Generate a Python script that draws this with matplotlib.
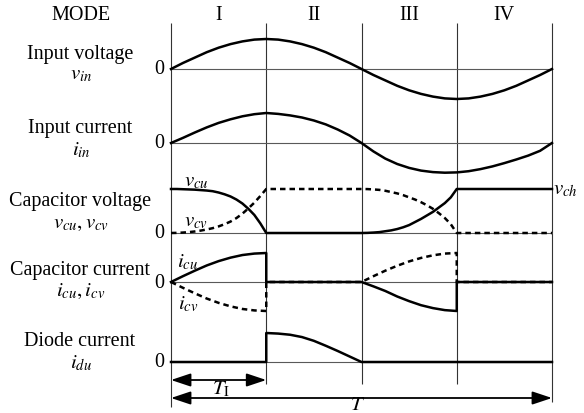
import matplotlib
matplotlib.use("Agg")
from matplotlib import pyplot as plt

plt.rcParams['font.family'] = ['Liberation Serif', 'DejaVu Serif']
plt.rcParams['mathtext.fontset'] = 'stix'

W, H = 584, 414

modes = ['I', 'II', 'III', 'IV']

# waveforms, normalised, one list per mode (I, II, III, IV);
# the points of a list are spread evenly over its mode
v_in = [[0, 0.2, 0.38, 0.56, 0.71, 0.83, 0.92, 0.98, 1.0],
        [1.0, 0.98, 0.92, 0.83, 0.71, 0.56, 0.38, 0.2, 0],
        [0, -0.2, -0.38, -0.56, -0.71, -0.83, -0.92, -0.98, -1.0],
        [-1.0, -0.98, -0.92, -0.83, -0.71, -0.56, -0.38, -0.2, 0]]
i_in = [[0, 0.17, 0.35, 0.52, 0.67, 0.79, 0.89, 0.96, 1.0],
        [1.0, 0.97, 0.92, 0.85, 0.75, 0.62, 0.45, 0.25, 0],
        [0, -0.28, -0.52, -0.7, -0.83, -0.92, -0.97, -0.99, -0.98],
        [-0.98, -0.94, -0.87, -0.78, -0.67, -0.55, -0.42, -0.26, 0]]
v_cu = [[1, 1.0, 0.995, 0.99, 0.985, 0.975, 0.965, 0.95, 0.92,
         0.88, 0.83, 0.76, 0.67, 0.55, 0.41, 0.22, 0],
        [0, 0],
        [0, 0.003, 0.01, 0.02, 0.04, 0.06, 0.09, 0.13, 0.18,
         0.25, 0.32, 0.4, 0.48, 0.58, 0.68, 0.81, 1.0],
        [1, 1]]
v_cv = [[0, 0.003, 0.01, 0.02, 0.035, 0.055, 0.08, 0.11, 0.15,
         0.2, 0.26, 0.34, 0.44, 0.56, 0.69, 0.84, 1.0],
        [1, 1],
        [1, 0.998, 0.99, 0.98, 0.96, 0.93, 0.9, 0.86, 0.81,
         0.76, 0.7, 0.63, 0.55, 0.45, 0.34, 0.2, 0],
        [0, 0]]
i_cu = [[0, 0.2, 0.39, 0.57, 0.72, 0.84, 0.93, 0.98, 1.0],
        [0, 0],
        [0, -0.15, -0.31, -0.5, -0.66, -0.8, -0.9, -0.97, -1.0],
        [0, 0]]
i_cv = [[0, -0.2, -0.39, -0.57, -0.72, -0.84, -0.93, -0.98, -1.0],
        [0, 0],
        [0, 0.2, 0.39, 0.56, 0.71, 0.83, 0.92, 0.98, 1.0],
        [0, 0]]
i_du = [[0, 0],
        [1, 0.98, 0.94, 0.86, 0.73, 0.56, 0.38, 0.19, 0],
        [0, 0],
        [0, 0]]


def join(parts):
    xs, ys = [], []
    for k, vals in enumerate(parts):
        n = len(vals) - 1
        xs += [k + i / n for i in range(n + 1)]
        ys += vals
    return xs, ys


# time axis: mode boundary 0 at x=171px, 4 at x=552px
x0_px, x4_px = 171, 552
u = (x4_px - x0_px) / 4
xlim = (-x0_px / u, (W - x0_px) / u)

fig = plt.figure(figsize=(W / 100, H / 100), dpi=100)
bg = fig.add_axes([0, 0, 1, 1])
bg.set_xlim(*xlim)
bg.set_ylim(H, 0)
bg.axis('off')


def row_axes(base, amp):
    a = fig.add_axes([0, (H - base - 1.2 * amp) / H, 1, 2.4 * amp / H])
    a.set_xlim(*xlim)
    a.set_ylim(-1.2, 1.2)
    a.axis('off')
    a.patch.set_alpha(0)
    a.hlines(0, 0, 4, color='0.35', lw=0.8, zorder=1)
    return a


def fx(x, y):
    return x / W, 1 - y / H


lw = 1.8
dash = (2.2, 1.6)

# mode boundary lines
bg.vlines([0, 1, 2, 3, 4], 24, [408, 385, 385, 385, 403], color='0.2', lw=0.8)

# rows
ax1 = row_axes(70, 30)
ax1.plot(*join(v_in), color='black', lw=lw, clip_on=False)

ax2 = row_axes(144, 30)
ax2.plot(*join(i_in), color='black', lw=lw, clip_on=False)

ax3 = row_axes(234, 44)
ax3.plot(*join(v_cv), color='black', lw=lw, dashes=dash, clip_on=False, zorder=2)
ax3.plot(*join(v_cu), color='black', lw=lw, clip_on=False, zorder=3)

ax4 = row_axes(283, 29)
ax4.plot(*join(i_cv), color='black', lw=lw, dashes=dash, clip_on=False, zorder=2)
ax4.plot(*join(i_cu), color='black', lw=lw, clip_on=False, zorder=3)

ax5 = row_axes(363, 29)
ax5.plot(*join(i_du), color='black', lw=lw, clip_on=False)

# period arrows
arrow = dict(arrowstyle='<|-|>,head_length=0.6,head_width=0.2', color='black',
             lw=1.3, mutation_scale=20, shrinkA=0, shrinkB=0)
bg.annotate('', xy=(1, 381), xytext=(0, 381), arrowprops=arrow)
bg.annotate('', xy=(4, 399), xytext=(0, 399), arrowprops=arrow)

fs = 14.5
fm = 15
fig.text(*fx(221, 389), r'$T_{\mathrm{I}}$', fontsize=fm, ha='center', va='center')
fig.text(*fx(358, 406), r'$T$', fontsize=fm, ha='center', va='center')

# header
fig.text(*fx(81, 15), 'MODE', fontsize=fs, ha='center', va='center')
for k, m in enumerate(modes):
    fig.text(*fx(x0_px + (k + 0.5) * u, 15), m, fontsize=fs, ha='center', va='center')

# row labels
labels = [('Input voltage', r'$v_{in}$', 55, 75, 70),
          ('Input current', r'$i_{in}$', 129, 150, 144),
          ('Capacitor voltage', r'$v_{cu},v_{cv}$', 202, 224, 234),
          ('Capacitor current', r'$i_{cu},i_{cv}$', 271, 291, 284),
          ('Diode current', r'$i_{du}$', 342, 363, 363)]
for name, sym, y_name, y_sym, y_zero in labels:
    fig.text(*fx(80, y_name), name, fontsize=fs, ha='center', va='center')
    fig.text(*fx(81, y_sym), sym, fontsize=fm, ha='center', va='center')
    fig.text(*fx(159, y_zero), '0', fontsize=fs, ha='center', va='center')

# curve labels
fig.text(*fx(196, 182), r'$v_{cu}$', fontsize=fm, ha='center', va='center')
fig.text(*fx(196, 222), r'$v_{cv}$', fontsize=fm, ha='center', va='center')
fig.text(*fx(553, 190), r'$v_{ch}$', fontsize=fm, ha='left', va='center')
fig.text(*fx(188, 262), r'$i_{cu}$', fontsize=fm, ha='center', va='center')
fig.text(*fx(188, 304), r'$i_{cv}$', fontsize=fm, ha='center', va='center')

fig.savefig('out.png', dpi=100)
